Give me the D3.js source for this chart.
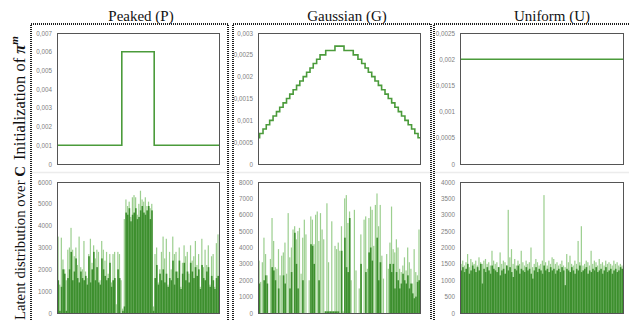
<!DOCTYPE html>
<html><head><meta charset="utf-8">
<script src="https://cdn.jsdelivr.net/npm/d3@7"></script>
<style>
html,body{margin:0;padding:0;background:#fff;}
svg{display:block;}
</style></head>
<body>
<svg id="chart" width="629" height="320"></svg>
<script>
// ---------- DATA ----------
const titles = ["Peaked (P)", "Gaussian (G)", "Uniform (U)"];

// Top row: initialization of pi^m (step functions; edges as fraction of C, values per step)
const peakEdges = [0, 0.4, 0.6, 1];
const peakVals  = [0.001, 0.006, 0.001];
const gaussEdges = [0, 0.010, 0.031, 0.051, 0.072, 0.093, 0.114, 0.134, 0.155, 0.176, 0.196, 0.217,
  0.238, 0.258, 0.279, 0.300, 0.321, 0.341, 0.362, 0.383, 0.418, 0.475, 0.531, 0.588, 0.617, 0.640,
  0.661, 0.681, 0.702, 0.722, 0.743, 0.763, 0.784, 0.804, 0.825, 0.845, 0.866, 0.886, 0.907, 0.927,
  0.948, 0.968, 0.988, 1];
const gaussVals = [0.0006, 0.0007, 0.0008, 0.0009, 0.0010, 0.0011, 0.0012, 0.0013, 0.0014, 0.0015,
  0.0016, 0.0017, 0.0018, 0.0019, 0.0020, 0.0021, 0.0022, 0.0023, 0.0024, 0.0025, 0.0026, 0.0027,
  0.0026, 0.0025, 0.0024, 0.0023, 0.0022, 0.0021, 0.0020, 0.0019, 0.0018, 0.0017, 0.0016, 0.0015,
  0.0014, 0.0013, 0.0012, 0.0011, 0.0010, 0.0009, 0.0008, 0.0007, 0.0006];
const uniEdges = [0, 1];
const uniVals  = [0.002];

const topTicksP = [0, 0.001, 0.002, 0.003, 0.004, 0.005, 0.006, 0.007];
const topTicksG = [0, 0.0005, 0.001, 0.0015, 0.002, 0.0025, 0.003];
const topTicksU = [0, 0.0005, 0.001, 0.0015, 0.002, 0.0025];

// Bottom row: latent distribution over C (two overlaid series per panel)
const lightP = [3500, 1300, 3450, 2450, 2000, 1500, 2900, 3000, 3900, 2900,
  2600, 3000, 2200, 3500, 2100, 2000, 3300, 1900, 1600, 2700,
  3400, 2300, 3100, 2500, 2900, 2800, 1500, 3300, 2900, 2400,
  2800, 1800, 2700, 1400, 2700, 2800, 400, 2800, 2700, 1500,
  200, 4300, 5200, 4900, 5100, 4400, 5300, 5400, 5300, 4500,
  5000, 5600, 5200, 5100, 5300, 4900, 5100, 4800, 5000, 300,
  2700, 3000, 1400, 2000, 2800, 3500, 2500, 3400, 1300, 2800,
  2000, 3500, 2700, 2800, 1900, 3000, 1200, 2300, 3100, 2600,
  2800, 1800, 3100, 2400, 2600, 3300, 2200, 2700, 1200, 3400,
  2100, 2900, 2200, 3100, 1300, 2600, 2700, 1200, 3200, 3600];
const darkP = [1500, 100, 1200, 2000, 1800, 100, 1600, 2000, 2800, 1500,
  1900, 2500, 1600, 1400, 1900, 1600, 1500, 1700, 1300, 2600,
  1400, 2000, 2800, 1500, 2100, 1400, 1300, 2500, 2000, 1700,
  1500, 1600, 2300, 1200, 1500, 1600, 0, 2000, 1600, 0,
  100, 300, 4600, 4500, 4800, 4200, 4500, 4600, 4800, 4300,
  4400, 4700, 4900, 4600, 4500, 4700, 4900, 4300, 4700, 100,
  1600, 2200, 1300, 1800, 1500, 2000, 1400, 1800, 1200, 1600,
  1500, 2400, 1300, 1900, 1600, 2400, 1100, 1800, 2300, 1500,
  1900, 1400, 2300, 1900, 1600, 2100, 1700, 2000, 1100, 2200,
  1600, 1500, 1900, 2100, 1200, 1700, 1500, 1100, 1600, 1700];

const lightG = [3200, 1900, 3100, 4600, 3600, 2300, 0, 3300, 5800, 4400,
  2800, 2700, 3900, 2300, 3500, 3700, 4300, 2400, 6100, 3400,
  4000, 5100, 5300, 4500, 5000, 5200, 2400, 4600, 5700, 4800,
  0, 2000, 5900, 5700, 4200, 6000, 6200, 4400, 6100, 5100,
  4500, 100, 6700, 3100, 100, 5600, 100, 4100, 3900, 4300,
  3800, 5300, 100, 7000, 7200, 5500, 6200, 2000, 0, 6300,
  2600, 0, 1500, 4800, 0, 5700, 5900, 2700, 5800, 6500,
  6300, 4100, 6600, 7300, 5300, 6600, 3500, 2100, 0, 3600,
  2700, 4300, 6500, 3900, 3700, 4500, 4000, 2700, 2500, 2900,
  3400, 2600, 4000, 3100, 2700, 1800, 3900, 2500, 2300, 5100];
const darkG = [1800, 0, 0, 2000, 2300, 1800, 0, 0, 2800, 2600,
  2000, 0, 1500, 0, 0, 2300, 1800, 0, 0, 1500,
  2500, 0, 4900, 3000, 1500, 0, 0, 2000, 0, 0,
  0, 0, 4200, 4100, 3000, 0, 0, 2000, 0, 0,
  0, 100, 100, 100, 100, 100, 100, 100, 100, 100,
  0, 3800, 0, 4600, 2800, 2500, 5800, 0, 0, 0,
  0, 0, 0, 3000, 0, 0, 2500, 0, 3700, 4000,
  3200, 0, 0, 4600, 2000, 3100, 0, 0, 0, 0,
  0, 3000, 2500, 3000, 1500, 2500, 2000, 1500, 1800, 2400,
  2000, 1800, 2300, 1500, 1800, 1200, 900, 1000, 1900, 2000];

const lightU = [1500, 1600, 1450, 1550, 1800, 1400, 1650, 1550, 1500, 1600,
  1450, 1700, 1550, 1500, 1600, 1650, 1500, 1550, 1450, 1900,
  1600, 1500, 1550, 1400, 1850, 1500, 1600, 1550, 1450, 3150,
  1700, 1950, 1500, 1650, 1450, 1600, 1500, 1900, 1550, 1450,
  1600, 1500, 1550, 2000, 1400, 1500, 1650, 1550, 1450, 1500,
  1600, 3600, 1550, 1450, 1600, 1500, 1700, 1650, 1500, 1550,
  1450, 1500, 1600, 1450, 1400, 1800, 1550, 1750, 1500, 1450,
  1600, 1500, 2200, 1550, 2650, 1450, 1500, 1600, 1550, 1450,
  1900, 1500, 1600, 1550, 1450, 1650, 1500, 1550, 1450, 1600,
  1500, 1550, 1500, 1450, 1600, 1500, 1550, 1450, 1500, 1450];
const darkU = [1300, 1400, 1250, 1350, 1500, 1200, 1300, 1450, 1350, 1250,
  1400, 1300, 1500, 900, 1350, 1250, 1400, 1300, 1200, 1450,
  1350, 1300, 1250, 1400, 1150, 1300, 1350, 1200, 1450, 1300,
  1400, 1250, 1100, 1350, 1300, 1450, 1200, 1350, 1300, 1250,
  1400, 1300, 1350, 1200, 1050, 1300, 1400, 1250, 1350, 1300,
  1200, 1450, 1300, 1350, 1250, 1400, 1300, 1350, 1200, 1300,
  1350, 1250, 1400, 1300, 850, 1350, 1300, 1250, 1400, 1300,
  1200, 1350, 1300, 1450, 1250, 1300, 1350, 1400, 1200, 1300,
  1250, 1350, 1300, 1400, 1250, 1300, 1350, 1200, 1300, 1400,
  1250, 1300, 1350, 1200, 1300, 1350, 1250, 1300, 1400, 1350];

const botTicksP = [0, 1000, 2000, 3000, 4000, 5000, 6000];
const botTicksG = [0, 1000, 2000, 3000, 4000, 5000, 6000, 7000, 8000];
const botTicksU = [0, 500, 1000, 1500, 2000, 2500, 3000, 3500, 4000];

// ---------- LAYOUT ----------
const svg = d3.select("#chart");
const cols = [{x0: 57, x1: 219, tx: 141}, {x0: 258, x1: 420, tx: 347}, {x0: 460, x1: 623, tx: 552}];
const topRow = {y0: 33, y1: 164};
const botRow = {y0: 182, y1: 313};
const groups = [{l: 31, r: 228}, {l: 233, r: 431}, {l: 434, r: 700}];
const lineColor = "#4b9b3b";
const darkColor = "#3d8f2e";
const lightColor = "#9ccf8f";
const fmt = d => String(d).replace(".", ",");

// separator
svg.append("line").attr("x1", 31).attr("x2", 629).attr("y1", 172.5).attr("y2", 172.5)
  .attr("stroke", "#ececec").attr("stroke-width", 1.5);

// dotted group frames
groups.forEach(g => {
  svg.append("path")
    .attr("d", `M${g.l},420V24H${g.r}V420`)
    .attr("fill", "none").attr("stroke", "#1e1e1e").attr("stroke-width", 1.7)
    .attr("stroke-dasharray", "1 1").attr("shape-rendering", "crispEdges");
});

// titles
titles.forEach((t, i) => {
  svg.append("text").attr("x", cols[i].tx).attr("y", 21).attr("text-anchor", "middle")
    .attr("font-family", "Liberation Serif, serif").attr("font-size", 15).attr("fill", "#111").text(t);
});

// row labels
const l1 = svg.append("text").attr("transform", "translate(25,98) rotate(-90)").attr("text-anchor", "middle")
  .attr("font-family", "Liberation Serif, serif").attr("font-size", 16.5).attr("fill", "#111");
l1.append("tspan").text("Initialization of ");
l1.append("tspan").attr("font-weight", "bold").attr("font-style", "italic").text("π");
l1.append("tspan").attr("font-weight", "bold").attr("font-style", "italic").attr("font-size", 11).attr("dy", -7).text("m");
const l2 = svg.append("text").attr("transform", "translate(25,166) rotate(-90)").attr("text-anchor", "end")
  .attr("font-family", "Liberation Serif, serif").attr("font-size", 14.8).attr("fill", "#111");
l2.append("tspan").text("Latent distribution over ");
l2.append("tspan").attr("font-weight", "bold").text("C");

function yAxis(g, scale, ticks) {
  g.call(d3.axisLeft(scale).tickValues(ticks).tickFormat(fmt).tickSize(0).tickPadding(5));
  g.select(".domain").remove();
  g.selectAll("text").attr("font-family", "Liberation Sans, Arial, sans-serif").attr("font-size", 6.3).attr("fill", "#7f7f7f");
}

// top step-line panels
const topSpecs = [
  {edges: peakEdges, vals: peakVals, max: 0.007, ticks: topTicksP},
  {edges: gaussEdges, vals: gaussVals, max: 0.003, ticks: topTicksG},
  {edges: uniEdges, vals: uniVals, max: 0.0025, ticks: topTicksU}
];
topSpecs.forEach((s, i) => {
  const c = cols[i];
  const x = d3.scaleLinear().domain([0, 1]).range([c.x0, c.x1]);
  const y = d3.scaleLinear().domain([0, s.max]).range([topRow.y1, topRow.y0]);
  const pts = [];
  s.vals.forEach((v, k) => { pts.push([s.edges[k], v]); pts.push([s.edges[k + 1], v]); });
  yAxis(svg.append("g").attr("transform", `translate(${c.x0},0)`), y, s.ticks);
  svg.append("path").datum(pts).attr("fill", "none").attr("stroke", lineColor).attr("stroke-width", 1.6)
    .attr("d", d3.line().x(d => x(d[0])).y(d => y(d[1])));
  svg.append("rect").attr("x", c.x0 + 0.5).attr("y", topRow.y0 + 0.5).attr("width", c.x1 - c.x0).attr("height", topRow.y1 - topRow.y0)
    .attr("fill", "none").attr("stroke", "#555").attr("stroke-width", 1);
});

// bottom bar panels
const botSpecs = [
  {light: lightP, dark: darkP, max: 6000, ticks: botTicksP},
  {light: lightG, dark: darkG, max: 8000, ticks: botTicksG},
  {light: lightU, dark: darkU, max: 4000, ticks: botTicksU}
];
botSpecs.forEach((s, i) => {
  const c = cols[i];
  const x = d3.scaleBand().domain(d3.range(s.light.length)).range([c.x0 + 0.5, c.x1]).padding(0);
  const y = d3.scaleLinear().domain([0, s.max]).range([botRow.y1, botRow.y0]);
  yAxis(svg.append("g").attr("transform", `translate(${c.x0},0)`), y, s.ticks);
  const g = svg.append("g");
  g.selectAll(".l").data(s.light).join("rect")
    .attr("x", (d, k) => x(k)).attr("width", x.bandwidth() * 0.75)
    .attr("y", d => y(d)).attr("height", d => y(0) - y(d)).attr("fill", lightColor);
  g.selectAll(".d").data(s.dark).join("rect")
    .attr("x", (d, k) => x(k)).attr("width", x.bandwidth())
    .attr("y", d => y(d)).attr("height", d => y(0) - y(d)).attr("fill", darkColor);
  svg.append("rect").attr("x", c.x0 + 0.5).attr("y", botRow.y0 + 0.5).attr("width", c.x1 - c.x0).attr("height", botRow.y1 - botRow.y0)
    .attr("fill", "none").attr("stroke", "#555").attr("stroke-width", 1);
});
</script>
</body></html>
